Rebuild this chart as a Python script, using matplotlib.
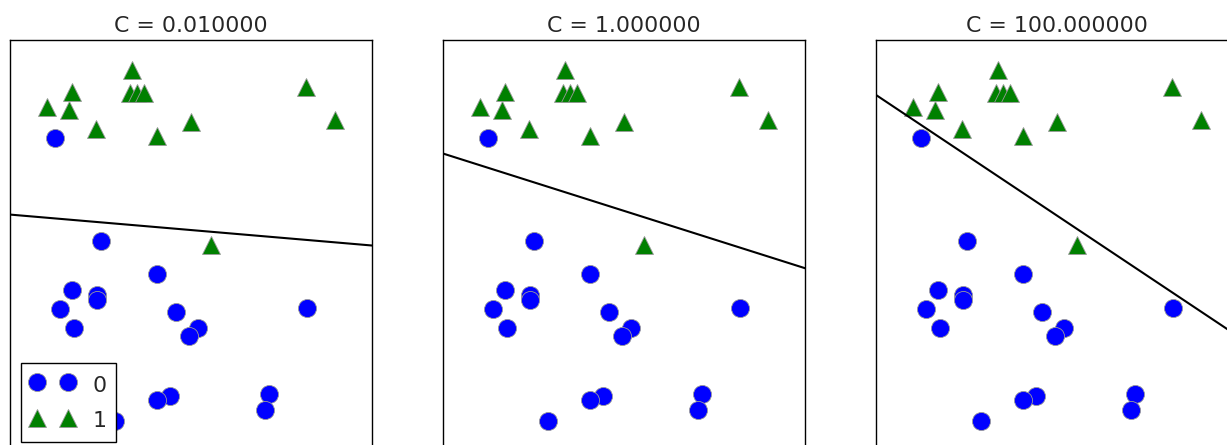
import matplotlib
matplotlib.use("Agg")
import matplotlib.pyplot as plt

# C values of the three linear SVC fits
c_values = [0.01, 1.0, 100.0]

# class 0 points (circles)
x0 = [2.51, 4.06, 1.71, 2.40, 2.40, 1.38, 1.77, 4.59, 5.19, 4.94,
      8.20, 4.42, 4.06, 7.15, 7.04, 2.90, 1.24]
y0 = [5.13, 4.35, 3.94, 3.84, 3.72, 3.48, 3.04, 3.43, 3.04, 2.84,
      3.52, 1.39, 1.29, 1.43, 1.04, 0.78, 7.63]

# class 1 points (triangles)
x1 = [3.37, 1.71, 1.02, 1.63, 3.31, 3.51, 3.70, 2.38, 4.06, 5.00,
      8.18, 8.98, 5.55]
y1 = [9.28, 8.75, 8.38, 8.31, 8.72, 8.72, 8.72, 7.85, 7.68, 8.02,
      8.87, 8.07, 5.05]

# decision boundary height at left / right edge of each panel
line_left = [5.78, 7.26, 8.68]
line_right = [5.03, 4.48, 2.83]

x_min, x_max = 0.0, 10.0
y_min, y_max = 0.0, 10.0

fig = plt.figure(figsize=(12.27, 4.45), dpi=100)

# axes placed in pixels (left, top, width, bottom) -> figure fraction
W, H = 1227.0, 445.0
lefts = [10, 443, 876]
ax_w, ax_top, ax_bot = 362, 40.5, 453

for i, (c, left) in enumerate(zip(c_values, lefts)):
    ax = fig.add_axes([left / W, (H - ax_bot) / H, ax_w / W, (ax_bot - ax_top) / H])
    ax.plot(x0, y0, "o", color="#0000ff", markersize=13,
            markeredgecolor="#9a9a9a", markeredgewidth=0.6, label="0")
    ax.plot(x1, y1, "^", color="#008000", markersize=13,
            markeredgecolor="#9a9a9a", markeredgewidth=0.6, label="1")
    ax.plot([x_min, x_max], [line_left[i], line_right[i]], "k-", linewidth=1.5)
    ax.set_xlim(x_min, x_max)
    ax.set_ylim(y_min, y_max)
    ax.set_xticks(())
    ax.set_yticks(())
    for sp in ax.spines.values():
        sp.set_linewidth(1.0)
        sp.set_color("black")
    ax.set_title("C = %f" % c, fontsize=15.8, color="#262626")
    if i == 0:
        leg = ax.legend(loc="lower left", numpoints=2, fontsize=15.8,
                        handleheight=1.32, borderpad=0.45,
                        fancybox=False, framealpha=1)
        leg.get_frame().set_edgecolor("black")
        leg.get_frame().set_linewidth(1.0)
        for t in leg.get_texts():
            t.set_color("#262626")

plt.savefig("out.png", dpi=100)
